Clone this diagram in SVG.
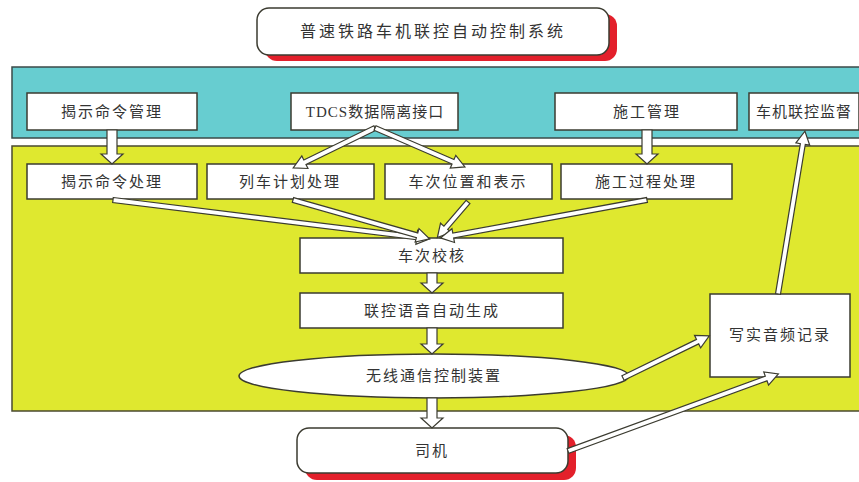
<svg xmlns="http://www.w3.org/2000/svg" width="859" height="482" viewBox="0 0 859 482">
<style>
.box{fill:#ffffff;stroke:#3b3b30;stroke-width:1.5}
.t{font-family:"Liberation Serif","Noto Sans CJK SC",serif;font-size:15px;fill:#333333;text-anchor:middle;letter-spacing:2px}
.ar{fill:#ffffff;stroke:#3b3b30;stroke-width:1.2;stroke-linejoin:miter}
.shadow{fill:#e3202b}
</style>
<rect x="0" y="0" width="859" height="482" fill="#ffffff"/>
<g id="bands">
<rect x="12" y="67" width="850" height="71" fill="#67cdd0" stroke="#3b4a48" stroke-width="1.5"/>
<rect x="12" y="146" width="850" height="265" fill="#dfe82f" stroke="#4a4a30" stroke-width="1.5"/>
</g>
<g id="title">
<rect class="shadow" x="265" y="14" width="352" height="47" rx="12"/>
<rect class="box" x="257" y="8" width="352" height="47" rx="12"/>
<text class="t" x="433" y="37" style="font-size:16px;letter-spacing:3px">普速铁路车机联控自动控制系统</text>
</g>
<g id="n1"><rect class="box" x="27" y="93" width="170" height="37"/><text class="t" x="112" y="117">揭示命令管理</text></g>
<g id="n2"><rect class="box" x="291" y="93" width="167" height="37"/><text class="t" x="375" y="117" style="letter-spacing:1px">TDCS数据隔离接口</text></g>
<g id="n3"><rect class="box" x="555" y="93" width="182" height="37"/><text class="t" x="647" y="117">施工管理</text></g>
<g id="n4"><rect class="box" x="749" y="93" width="110" height="37"/><text class="t" x="804" y="117" style="letter-spacing:1px">车机联控监督</text></g>
<g id="n5"><rect class="box" x="27" y="164" width="170" height="35"/><text class="t" x="112" y="187">揭示命令处理</text></g>
<g id="n6"><rect class="box" x="207" y="164" width="167" height="35"/><text class="t" x="290" y="187">列车计划处理</text></g>
<g id="n7"><rect class="box" x="385" y="164" width="167" height="35"/><text class="t" x="468" y="187">车次位置和表示</text></g>
<g id="n8"><rect class="box" x="561" y="164" width="171" height="35"/><text class="t" x="646" y="187">施工过程处理</text></g>
<g id="n9"><rect class="box" x="300" y="238" width="263" height="35"/><text class="t" x="432" y="261">车次校核</text></g>
<g id="n10"><rect class="box" x="300" y="293" width="263" height="35"/><text class="t" x="432" y="316">联控语音自动生成</text></g>
<g id="n11"><ellipse class="box" cx="434" cy="376" rx="195" ry="22"/><text class="t" x="434" y="381">无线通信控制装置</text></g>
<g id="n12"><rect class="box" x="710" y="294" width="140" height="83"/><text class="t" x="780" y="340">写实音频记录</text></g>
<g id="n13">
<rect class="shadow" x="305" y="435" width="271" height="45" rx="12"/>
<rect class="box" x="297" y="428" width="271" height="45" rx="12"/>
<text class="t" x="432" y="456">司机</text>
</g>
<g id="connectors">
<path class="ar" d="M107,130 H117 V154 H123 L112,164 L101,154 H107 Z"/>
<path class="ar" d="M642,130 H652 V154 H658 L647,164 L636,154 H642 Z"/>
<path class="ar" d="M427,273 H437 V283 H443 L432,293 L421,283 H427 Z"/>
<path class="ar" d="M427,328 H437 V344 H443 L432,354 L421,344 H427 Z"/>
<path class="ar" d="M427,398 H437 V418 H443 L432,428 L421,418 H427 Z"/>
<path class="ar" transform="translate(375,128) rotate(154)" d="M0,-2.5 H78 V-7 L91,0 L78,7 V2.5 H0 Z"/>
<path class="ar" transform="translate(375,128) rotate(23.4)" d="M0,-2.5 H85 V-7 L98,0 L85,7 V2.5 H0 Z"/>
<path class="ar" transform="translate(113,200) rotate(7)" d="M0,-2.5 H306 V-7 L319,0 L306,7 V2.5 H0 Z"/>
<path class="ar" transform="translate(293,200) rotate(15.9)" d="M0,-2.5 H129 V-7 L142,0 L129,7 V2.5 H0 Z"/>
<path class="ar" transform="translate(468,202) rotate(130.7)" d="M0,-2.5 H34 V-7 L47,0 L34,7 V2.5 H0 Z"/>
<path class="ar" transform="translate(647,200) rotate(169.6)" d="M0,-2.5 H197 V-7 L210,0 L197,7 V2.5 H0 Z"/>
<path class="ar" transform="translate(778,294) rotate(-80.6)" d="M0,-2.5 H152 V-7 L165,0 L152,7 V2.5 H0 Z"/>
<path class="ar" transform="translate(623,378) rotate(-26)" d="M0,-2.5 H83 V-7 L96,0 L83,7 V2.5 H0 Z"/>
<path class="ar" transform="translate(568,451) rotate(-20.1)" d="M0,-2.5 H211 V-7 L224,0 L211,7 V2.5 H0 Z"/>
</g>
</svg>
